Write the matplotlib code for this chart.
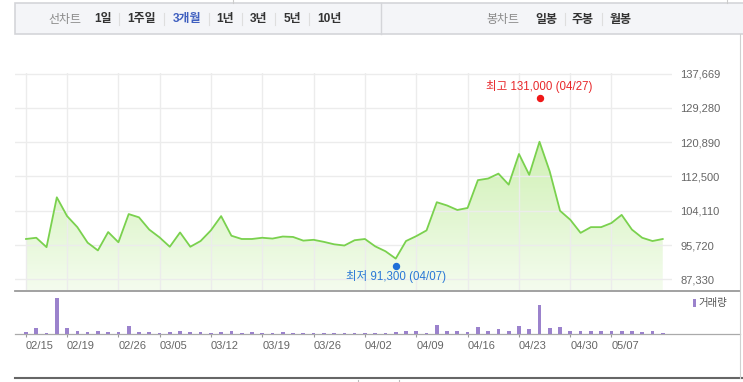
import numpy as np
import matplotlib
matplotlib.use('Agg')
import matplotlib.pyplot as plt
import matplotlib.transforms as mtransforms
from matplotlib.lines import Line2D
from matplotlib.patches import Rectangle, Polygon
from matplotlib.colors import LinearSegmentedColormap

# ---------------- data ----------------
prices = [97200, 97500, 95200, 107400, 102800, 100100, 96300, 94400, 98900, 96400,
          103300, 102500, 99500, 97600, 95300, 98800, 95300, 96700, 99300, 102800,
          98000, 97200, 97200, 97500, 97300, 97800, 97700, 96800, 97000, 96500,
          95900, 95600, 96900, 97200, 95400, 94200, 92400, 96700, 97900, 99300,
          106200, 105400, 104300, 104800, 111600, 112000, 113200, 110500, 118000, 112900,
          121000, 113700, 104100, 101900, 98700, 100100, 100100, 101100, 103100, 99500,
          97500, 96700, 97200]
volume_k = [6, 18, 4, 111, 18, 9, 6, 9, 6, 6,
            24, 6, 6, 4, 6, 9, 6, 6, 4, 6,
            9, 4, 6, 4, 4, 6, 4, 4, 4, 4,
            4, 4, 4, 4, 4, 4, 6, 9, 9, 4,
            27, 11, 9, 6, 21, 9, 15, 9, 24, 15,
            90, 18, 21, 11, 9, 11, 9, 9, 9, 9,
            6, 9, 4]
tick_idx = [0, 4, 9, 13, 18, 23, 28, 33, 38, 43, 48, 53, 57]
tick_labels = ['02/15', '02/19', '02/26', '03/05', '03/12', '03/19', '03/26',
               '04/02', '04/09', '04/16', '04/23', '04/30', '05/07']
y_ticks = [87330, 95720, 104110, 112500, 120890, 129280, 137669]
high_idx, high_val, high_label = 50, 131000, '최고 131,000 (04/27)'
low_idx, low_val, low_label = 36, 91300, '최저 91,300 (04/07)'
period_items = ['1일', '1주일', '3개월', '1년', '3년', '5년', '10년']
candle_items = ['일봉', '주봉', '월봉']

# ---------------- layout ----------------
W, H = 743, 382
fig = plt.figure(figsize=(W / 100, H / 100), dpi=100)
fig.patch.set_facecolor('white')


def fx(px):
    return px / W


def fy(py):
    return 1 - py / H


NUM = ['Liberation Sans', 'Noto Sans CJK KR']
KR = ['Noto Sans CJK KR', 'DejaVu Sans']

step = 10.27
x0px = 26.0
xl = (15 - x0px) / step
xr_main = (672 - x0px) / step
xr_vol = (740 - x0px) / step

# ---------------- main price axes ----------------
ax = fig.add_axes([fx(15), fy(290), fx(672) - fx(15), fy(73.3) - fy(290)])
x = np.arange(len(prices))
ylo, yhi = 84715, 137750

verts = [(x[0], ylo)] + list(zip(x, prices)) + [(x[-1], ylo)]
poly = Polygon(verts, closed=True, facecolor='none', edgecolor='none')
ax.add_patch(poly)
cmap = LinearSegmentedColormap.from_list('g', ['#f4fcee', '#bfeb9a'])
grad = np.linspace(0, 1, 256).reshape(-1, 1)
im = ax.imshow(grad, extent=[x[0], x[-1], ylo, yhi], origin='lower',
               aspect='auto', cmap=cmap, zorder=1, interpolation='bilinear')
im.set_clip_path(poly)

ax.plot(x, prices, color='#7ad14e', lw=1.3, zorder=3, solid_joinstyle='round')

ax.set_xlim(xl, xr_main)
ax.set_ylim(ylo, yhi)
ax.set_xticks(tick_idx)
ax.set_yticks(y_ticks)
ax.set_yticklabels([f'{v:,}' for v in y_ticks])
ax.yaxis.tick_right()
ax.tick_params(axis='x', length=0, labelbottom=False)
ax.tick_params(axis='y', length=0, pad=5.8, labelsize=8, labelcolor='#666666')
for lab in ax.get_yticklabels():
    lab.set_family(NUM)
ax.grid(True, color='#ececec', lw=1)
ax.set_axisbelow('line')
for s in ax.spines.values():
    s.set_visible(False)

up = mtransforms.ScaledTranslation(0, 3 / 100, fig.dpi_scale_trans)
down = mtransforms.ScaledTranslation(0, -3 / 100, fig.dpi_scale_trans)
ax.plot([high_idx], [high_val], 'o', color='#f01818', ms=4.3, zorder=5,
        transform=ax.transData + up, clip_on=False)
ax.plot([low_idx], [low_val], 'o', color='#1f6fd8', ms=4.3, zorder=5,
        transform=ax.transData + down, clip_on=False)
ax.annotate(high_label, xy=(high_idx, high_val), xytext=(0, 10.6),
            textcoords='offset points', ha='center', va='center',
            fontsize=8.3, color='#e8282b', family=NUM, annotation_clip=False)
ax.annotate(low_label, xy=(low_idx, low_val), xytext=(0, -9.8),
            textcoords='offset points', ha='center', va='center',
            fontsize=8.3, color='#2a78d6', family=NUM, annotation_clip=False)

# ---------------- volume axes ----------------
axv = fig.add_axes([fx(15), fy(334.3), fx(740) - fx(15), fy(290.7) - fy(334.3)])
axv.bar(x, volume_k, width=0.36, color='#9b82cc', zorder=4, linewidth=0)
axv.set_xlim(xl, xr_vol)
axv.set_ylim(0, 133)
axv.set_yticks([])
axv.set_xticks(tick_idx)
axv.set_xticklabels(tick_labels)
axv.tick_params(axis='x', length=2.4, width=0.8, color='#999999', pad=2.5,
                labelsize=8, labelcolor='#666666')
for lab in axv.get_xticklabels():
    lab.set_family(NUM)
    lab.set_horizontalalignment('left')
axv.spines['left'].set_visible(False)
axv.spines['right'].set_visible(False)
axv.spines['top'].set_color('#9a9a9a')
axv.spines['top'].set_linewidth(1.3)
axv.spines['bottom'].set_color('#aaaaaa')
axv.spines['bottom'].set_linewidth(0.9)
axv.spines['bottom'].set_zorder(3)
axv.patch.set_alpha(0)

# legend
fig.add_artist(Rectangle((fx(692.8), fy(306.8)), fx(3), fy(299) - fy(306.8),
                         transform=fig.transFigure, facecolor='#9b82cc', edgecolor='none'))
fig.text(fx(698), fy(303.3), '거래량', fontsize=7.5, color='#555555', family=KR,
         va='center', ha='left')

# bottom line and borders
fig.add_artist(Line2D([fx(15), fx(743)], [fy(378.3), fy(378.3)], color='#666666', lw=1.5))
fig.add_artist(Line2D([fx(740), fx(740)], [fy(34.3), fy(378.3)], color='#d0d0d0', lw=0.8))
for xp in (358.3, 399.3):
    fig.add_artist(Line2D([fx(xp), fx(xp)], [fy(379.5), fy(382)], color='#bbbbbb', lw=0.8))
fig.add_artist(Line2D([fx(233), fx(233)], [fy(0), fy(3)], color='#cccccc', lw=0.8))
fig.add_artist(Line2D([fx(726.7), fx(726.7)], [fy(0), fy(3)], color='#cccccc', lw=0.8))

# ---------------- toolbar ----------------
fig.add_artist(Rectangle((fx(15), fy(34.3)), fx(745) - fx(15), fy(3.3) - fy(34.3),
                         transform=fig.transFigure, facecolor='#f4f5f8',
                         edgecolor='#d4d5d9', lw=1.2))
fig.add_artist(Line2D([fx(381), fx(381)], [fy(3.3), fy(34.3)], color='#d4d5d9', lw=1.0))

ty = fy(19)
fig.text(fx(65), ty, '선차트', fontsize=8.6, color='#8a8a8a', family=KR, ha='center', va='center')
period_x = [103, 142, 187, 225, 259, 292, 329]
for i, (lbl, px) in enumerate(zip(period_items, period_x)):
    col = '#3f5fbf' if lbl == '3개월' else '#333333'
    fig.text(fx(px), ty, lbl, fontsize=8.6, color=col, family=NUM, weight='bold',
             ha='center', va='center')
for sx in [119, 164, 209, 242, 275, 309]:
    fig.add_artist(Line2D([fx(sx), fx(sx)], [fy(13), fy(25)], color='#dedede', lw=0.8))

fig.text(fx(503), ty, '봉차트', fontsize=8.6, color='#8a8a8a', family=KR, ha='center', va='center')
candle_x = [546.3, 582.5, 620]
for lbl, px in zip(candle_items, candle_x):
    fig.text(fx(px), ty, lbl, fontsize=8.6, color='#333333', family=KR, weight='bold',
             ha='center', va='center')
for sx in [565, 601.7]:
    fig.add_artist(Line2D([fx(sx), fx(sx)], [fy(13), fy(25)], color='#dedede', lw=0.8))

fig.savefig('out.png', dpi=100, facecolor='white')
